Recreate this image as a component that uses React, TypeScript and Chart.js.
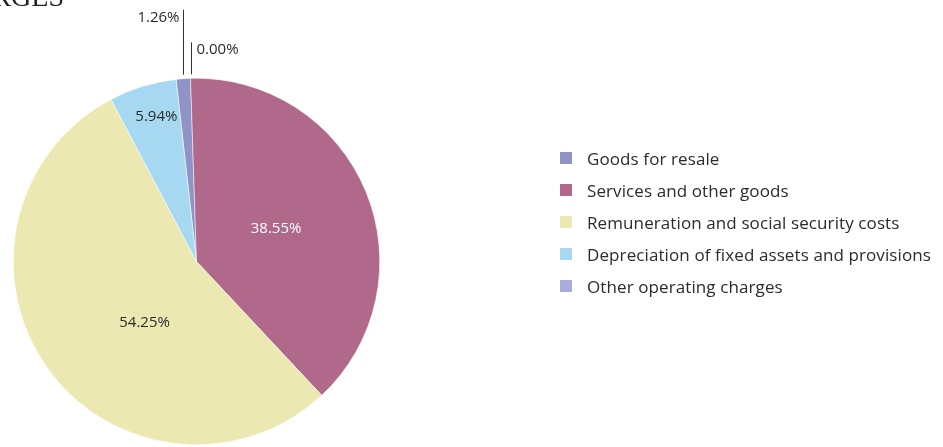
import React, { useEffect, useRef } from "react";
import { Chart, registerables } from "chart.js";

Chart.register(...registerables);

const categories = [
  "Goods for resale",
  "Services and other goods",
  "Remuneration and social security costs",
  "Depreciation of fixed assets and provisions",
  "Other operating charges",
];
const shares = [1.26, 38.55, 54.25, 5.94, 0.0];
const valueLabels = ["1.26%", "38.55%", "54.25%", "5.94%", "0.00%"];
const colors = ["#8f93c6", "#b0698a", "#ece8b2", "#a7d8f2", "#a9addb"];

const TEXT = "#2b2b2b";
const LABEL_FONT = "15px 'Open Sans'";

// per-slice label placement styles
const labelStyles: any[] = [
  { mode: "leader", side: "left", len: 65, gap: 4, angleOffset: 0 },
  { mode: "inside", r: 0.47, angleOffset: 0, color: "#ffffff" },
  { mode: "inside", r: 0.44, angleOffset: -14.5, color: TEXT },
  { mode: "inside", r: 0.82, angleOffset: 1.6, color: TEXT },
  { mode: "leader", side: "right", len: 32, gap: 4, angleOffset: 4.8 },
];

const labelPlugin = {
  id: "sliceLabels",
  afterDatasetsDraw(chart: any) {
    const ctx = chart.ctx;
    const meta = chart.getDatasetMeta(0);
    ctx.save();
    ctx.font = LABEL_FONT;
    ctx.textBaseline = "middle";
    meta.data.forEach((arc: any, i: number) => {
      const { x, y, startAngle, endAngle, outerRadius } = arc.getProps(
        ["x", "y", "startAngle", "endAngle", "outerRadius"],
        true
      );
      const st = labelStyles[i];
      const a = (startAngle + endAngle) / 2 + (st.angleOffset * Math.PI) / 180;
      if (st.mode === "inside") {
        const r = outerRadius * st.r;
        ctx.fillStyle = st.color;
        ctx.textAlign = "center";
        ctx.fillText(valueLabels[i], x + r * Math.cos(a), y + r * Math.sin(a));
      } else {
        const px = Math.round(x + outerRadius * Math.cos(a)) + 0.5;
        const py = y + outerRadius * Math.sin(a);
        const y0 = py - st.gap;
        const y1 = y0 - st.len;
        ctx.strokeStyle = "#333333";
        ctx.lineWidth = 1;
        ctx.beginPath();
        ctx.moveTo(px, y0);
        ctx.lineTo(px, y1);
        ctx.stroke();
        ctx.fillStyle = TEXT;
        if (st.side === "left") {
          ctx.textAlign = "right";
          ctx.fillText(valueLabels[i], px - 4, y1 + 8);
        } else {
          ctx.textAlign = "left";
          ctx.fillText(valueLabels[i], px + 5, y1 + 7.5);
        }
      }
    });
    ctx.restore();
  },
};

export default function App() {
  const ref = useRef<HTMLCanvasElement | null>(null);
  useEffect(() => {
    if (!ref.current) return;
    const chart = new Chart(ref.current, {
      type: "pie",
      data: {
        labels: categories,
        datasets: [
          {
            data: shares,
            backgroundColor: colors,
            borderColor: "#ffffff",
            borderWidth: 0.5,
          },
        ],
      },
      options: {
        responsive: false,
        animation: false,
        rotation: -6.4,
        layout: { padding: { left: 13, right: 563, top: 78, bottom: 2 } },
        plugins: {
          legend: { display: false },
          tooltip: { enabled: false },
        },
      },
      plugins: [labelPlugin],
    });
    return () => chart.destroy();
  }, []);

  return (
    <div
      style={{
        position: "absolute",
        left: 0,
        top: 0,
        width: 943,
        height: 447,
        overflow: "hidden",
        background: "#ffffff",
      }}
    >
      <canvas ref={ref} width={943} height={447} style={{ position: "absolute", left: 0, top: 0 }} />
      <div
        style={{
          position: "absolute",
          right: 879,
          top: -17,
          whiteSpace: "nowrap",
          fontFamily: "'Liberation Serif', serif",
          fontSize: 28,
          lineHeight: "28px",
          color: "#222",
        }}
      >
        OPERATING CHARGES
      </div>
      {categories.map((c, i) => (
        <div
          key={c}
          style={{
            position: "absolute",
            left: 560,
            top: 158 + 32 * i - 12,
            height: 24,
            display: "flex",
            alignItems: "center",
            whiteSpace: "nowrap",
            fontFamily: "'Open Sans', sans-serif",
            fontSize: 17,
            letterSpacing: "0.1px",
            color: TEXT,
          }}
        >
          <span style={{ display: "inline-block", width: 12, height: 12, background: colors[i], marginRight: 15 }} />
          {c}
        </div>
      ))}
    </div>
  );
}
